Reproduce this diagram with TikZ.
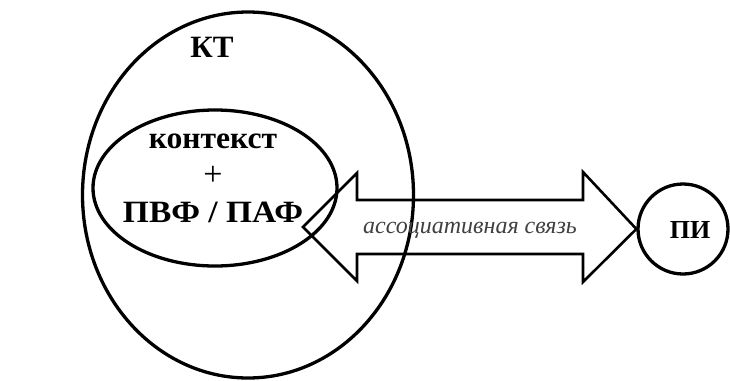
\documentclass[tikz,border=0pt]{standalone}
\usepackage{fontspec}
\setmainfont{Liberation Serif}
\usetikzlibrary{shapes.geometric}
\begin{document}
\begin{tikzpicture}[x=1pt,y=-1pt,
  ring/.style={draw=black,line width=3.3pt,ellipse,inner sep=0pt},
  bold30/.style={font=\fontsize{31}{33}\selectfont\bfseries},
  arrowline/.style={draw=black,line width=2.6pt,line join=miter}]
\useasboundingbox (0,0) rectangle (730,380);
% outer circle
\node[ring,minimum width=331pt,minimum height=366pt] (kt) at (248,195) {};
% inner ellipse
\node[ring,minimum width=244pt,minimum height=156pt] (ctx) at (215,188) {};
% PI circle
\node[ring,circle,minimum size=90pt] (pi) at (683,229) {};
% labels
\node[font=\fontsize{31}{33}\selectfont\bfseries] (ktl) at (212,47) {КТ};
\node[bold30,xscale=1.02] (kon) at (213,141) {контекст};
\node[font=\fontsize{34}{36}\selectfont] (plus) at (213,176) {+};
\node[bold30,xscale=1.08] (pvf) at (213,212) {ПВФ / ПАФ};
\node[font=\fontsize{26}{28}\selectfont\bfseries] (pil) at (690,230) {ПИ};
% double arrow
\coordinate (ltip) at (303,227);
\coordinate (rtip) at (pi.west);
\draw[arrowline] (ltip) -- (357,173) -- (357,200) -- (583,200) -- (583,172)
  -- (rtip) -- (583,282) -- (583,254) -- (357,254) -- (357,281) -- cycle;
\node[font=\fontsize{24}{26}\selectfont\itshape,text=black!75] (assoc) at (470,230) {ассоциативная связь};
\end{tikzpicture}
\end{document}
